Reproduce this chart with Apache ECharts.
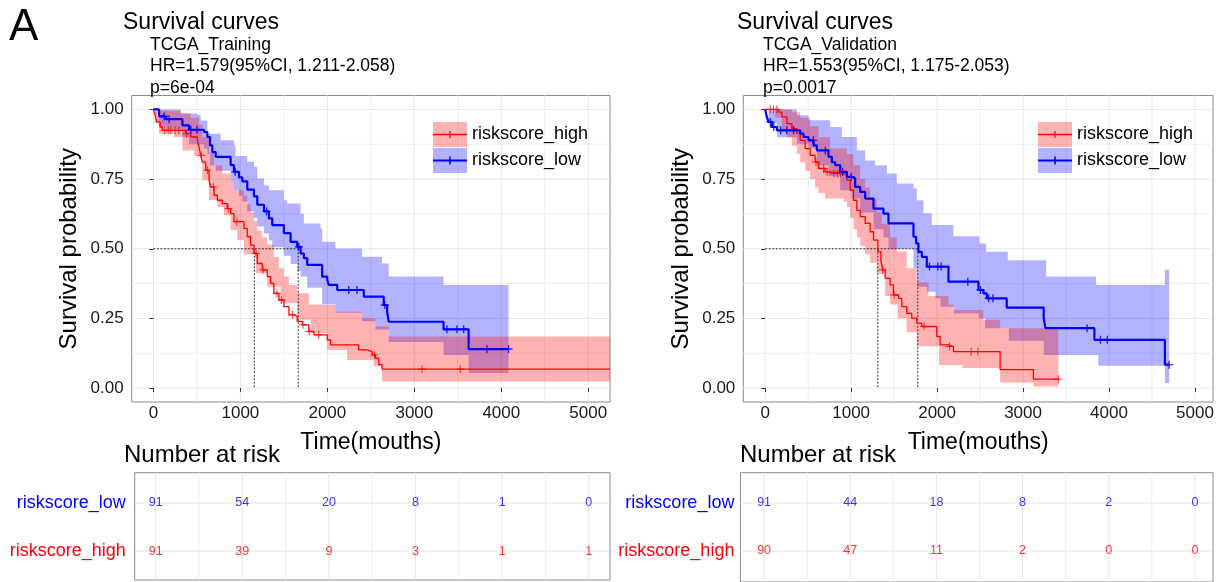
<!DOCTYPE html>
<html><head><meta charset="utf-8">
<script src="https://cdn.jsdelivr.net/npm/echarts@6/dist/echarts.min.js"></script>
<style>html,body{margin:0;padding:0;background:#fff}#c{width:1231px;height:582px}</style>
</head><body><div id="c"></div>
<script>
const FONT = "'Liberation Sans', Arial, Helvetica, sans-serif";
const RED = '#FF0000', BLUE = '#0000FF';
const RED_BAND = 'rgba(255,0,0,0.30)', BLUE_BAND = 'rgba(0,0,255,0.30)';

// ---------------- data ----------------
const groupNames = ['riskscore_high', 'riskscore_low'];
const xTicks = [0, 1000, 2000, 3000, 4000, 5000];
const yTicks = [0, 0.25, 0.5, 0.75, 1];
const xGridVals = [0, 500, 1000, 1500, 2000, 2500, 3000, 3500, 4000, 4500, 5000];
const yGridVals = [0, 0.125, 0.25, 0.375, 0.5, 0.625, 0.75, 0.875, 1];
const riskTimes = [0, 1000, 2000, 3000, 4000, 5000];
const trainRiskLow = [91, 54, 20, 8, 1, 0];
const trainRiskHigh = [91, 39, 9, 3, 1, 1];
const valRiskLow = [91, 44, 18, 8, 2, 0];
const valRiskHigh = [90, 47, 11, 2, 0, 0];

// TCGA_Training
const trainLowT = [0,65,142,333,410,582,620,651,677,716,888,926,984,1022,1079,1156,1194,1271,1328,1366,1500,1577,1653,1692,1730,1768,1940,1998,2017,2113,2419,2648,2687,2706,3336,3624,4083];
const trainLowS = [1,0.975,0.965,0.943,0.927,0.919,0.901,0.871,0.847,0.830,0.800,0.776,0.756,0.742,0.712,0.688,0.658,0.634,0.609,0.585,0.556,0.525,0.507,0.483,0.466,0.442,0.400,0.388,0.370,0.352,0.328,0.298,0.274,0.238,0.211,0.140,0.140];
const trainLowUpT = [0,314,505,543,620,773,926,945,1079,1156,1194,1271,1328,1500,1538,1692,1730,1921,1940,2093,2399,2629,2705,3336,4083];
const trainLowUp = [1,0.985,0.98,0.96,0.913,0.889,0.871,0.833,0.812,0.794,0.752,0.728,0.710,0.674,0.662,0.626,0.591,0.573,0.525,0.501,0.471,0.447,0.400,0.370,0.370];
const trainLowLoT = [0,65,142,333,410,582,620,651,716,888,926,984,1022,1079,1156,1194,1271,1328,1366,1500,1577,1653,1692,1768,1940,2093,2399,2552,2705,3336,3624,4083];
const trainLowLo = [1,0.94,0.93,0.90,0.875,0.86,0.84,0.80,0.78,0.74,0.71,0.69,0.67,0.635,0.61,0.58,0.555,0.53,0.505,0.475,0.445,0.42,0.40,0.36,0.30,0.27,0.24,0.21,0.165,0.119,0.054,0.054];
const trainLowCens = [122,180,430,500,940,1300,1672,2246,2340,2660,3375,3490,3567,3835,4083];

const trainHighT = [0,19,38,77,103,371,429,505,524,543,563,601,639,658,697,735,792,850,888,926,1041,1079,1117,1156,1194,1251,1309,1347,1385,1443,1500,1558,1615,1653,1711,1787,1845,1998,2036,2361,2457,2514,2553,2591,2629,5250];
const trainHighS = [1,0.979,0.955,0.937,0.925,0.913,0.901,0.889,0.865,0.835,0.811,0.782,0.746,0.722,0.692,0.674,0.662,0.644,0.626,0.597,0.573,0.543,0.513,0.483,0.447,0.424,0.400,0.376,0.340,0.316,0.292,0.263,0.257,0.239,0.227,0.203,0.191,0.173,0.155,0.137,0.131,0.119,0.107,0.084,0.068,0.068];
const trainHighUpT = [0,77,314,429,524,563,639,697,792,888,926,1041,1079,1117,1156,1194,1251,1309,1385,1443,1500,1558,1653,1787,1940,2093,2399,2552,2705,5250];
const trainHighUp = [1,0.995,0.985,0.97,0.945,0.90,0.845,0.80,0.77,0.74,0.71,0.69,0.66,0.63,0.60,0.565,0.54,0.515,0.47,0.43,0.40,0.37,0.34,0.30,0.298,0.274,0.251,0.221,0.185,0.185];
const trainHighLoT = [0,19,65,237,333,466,562,638,735,811,887,964,1040,1174,1308,1461,1653,1806,1998,2227,2533,2629,5250];
const trainHighLo = [1,0.95,0.913,0.901,0.853,0.835,0.746,0.674,0.650,0.620,0.567,0.531,0.48,0.412,0.364,0.304,0.245,0.197,0.137,0.101,0.078,0.024,0.024];
const trainHighCens = [130,170,200,250,290,380,550,620,690,860,960,1180,1260,1420,1470,1600,1720,1790,1900,2540,3088,3528];
const trainMedianHigh = 1160, trainMedianLow = 1665;

// TCGA_Validation
const valLowT = [0,19,39,78,136,407,446,504,562,601,736,775,814,872,950,1008,1047,1105,1163,1260,1376,1434,1725,1756,1783,1822,1880,2132,2481,2539,2578,2810,3240,3260,3830,4650,4700];
const valLowS = [1,0.973,0.955,0.937,0.925,0.913,0.901,0.889,0.871,0.853,0.830,0.811,0.800,0.776,0.758,0.752,0.722,0.704,0.680,0.644,0.626,0.591,0.543,0.519,0.489,0.471,0.436,0.382,0.352,0.340,0.322,0.289,0.251,0.215,0.173,0.084,0.084];
const valLowUpT = [0,368,504,756,891,1066,1163,1279,1415,1531,1725,1764,1841,1938,2190,2493,2570,2822,3269,3850,4650,4700];
const valLowUp = [1,0.979,0.961,0.937,0.901,0.853,0.817,0.800,0.770,0.734,0.716,0.674,0.627,0.585,0.545,0.519,0.489,0.459,0.400,0.370,0.424,0.424];
const valLowLoT = [0,39,136,368,504,601,736,872,1008,1105,1260,1376,1434,1725,1768,1884,1981,2039,2194,2485,2560,2834,3241,3876,4650,4700];
const valLowLo = [1,0.95,0.90,0.877,0.86,0.80,0.76,0.71,0.68,0.63,0.57,0.54,0.50,0.43,0.364,0.346,0.322,0.292,0.268,0.25,0.215,0.17,0.119,0.08,0.018,0.018];
const valLowCens = [60,100,180,250,330,560,700,900,1000,1911,2008,2047,2357,2504,2600,2650,3744,3900,3980,4700];

const valHighT = [0,155,194,252,310,368,407,465,523,581,620,698,756,911,950,988,1027,1066,1105,1163,1221,1260,1310,1345,1365,1395,1453,1492,1550,1589,1647,1705,1764,1822,1996,2035,2132,2190,2733,3120,3410];
const valHighS = [1,0.99,0.973,0.949,0.931,0.913,0.889,0.859,0.835,0.811,0.788,0.776,0.770,0.764,0.746,0.710,0.674,0.638,0.615,0.591,0.561,0.531,0.49,0.459,0.424,0.394,0.370,0.334,0.322,0.292,0.268,0.251,0.233,0.221,0.185,0.155,0.149,0.131,0.066,0.032,0.032];
const valHighUpT = [0,194,310,407,523,620,756,950,1027,1105,1163,1221,1298,1357,1453,1530,1647,1764,1900,2132,2190,2539,2733,3410];
const valHighUp = [1,1,0.99,0.97,0.94,0.90,0.86,0.84,0.80,0.75,0.72,0.68,0.63,0.59,0.54,0.49,0.43,0.38,0.33,0.30,0.28,0.245,0.215,0.215];
const valHighLoT = [0,116,194,252,310,368,407,465,523,581,620,698,911,950,988,1027,1066,1105,1163,1221,1298,1395,1453,1539,1647,1764,2024,2295,2733,3120,3410];
const valHighLo = [1,0.97,0.93,0.90,0.87,0.84,0.81,0.78,0.75,0.72,0.70,0.68,0.67,0.65,0.61,0.57,0.54,0.51,0.48,0.45,0.41,0.33,0.30,0.25,0.20,0.15,0.083,0.072,0.02,0.006,0.006];
const valHighCens = [58,97,136,590,680,720,800,840,875,1368,1500,1848,2144,2396,2474,3410];
const valMedianHigh = 1310, valMedianLow = 1775;

const trainTitle = ['TCGA_Training', 'HR=1.579(95%CI, 1.211-2.058)', 'p=6e-04'];
const valTitle = ['TCGA_Validation', 'HR=1.553(95%CI, 1.175-2.053)', 'p=0.0017'];

// ---------------- helpers ----------------
function survAt(T, S, t) { let v = S[0]; for (let i = 0; i < T.length; i++) { if (T[i] <= t) v = S[i]; else break; } return v; }
function stepPts(T, V) { const p = []; for (let i = 0; i < T.length; i++) { p.push([T[i], V[i]]); if (i + 1 < T.length) p.push([T[i + 1], V[i]]); } return p; }
function pair(T, V) { return T.map((t, i) => [t, V[i]]); }

const panels = [
  { grid: {left: 131.7, top: 95.5, width: 478.3, height: 306.5}, xr: [-250, 5250],
    table: {left: 134.7, top: 472.7, width: 475.3, height: 107.3}, txr: [-242, 5245], tyr: [-0.6, 1.63], rowMargin: 9,
    low: {T: trainLowT, S: trainLowS, upT: trainLowUpT, up: trainLowUp, loT: trainLowLoT, lo: trainLowLo, cens: trainLowCens, risk: trainRiskLow, med: trainMedianLow},
    high: {T: trainHighT, S: trainHighS, upT: trainHighUpT, up: trainHighUp, loT: trainHighLoT, lo: trainHighLo, cens: trainHighCens, risk: trainRiskHigh, med: trainMedianHigh},
    legendLeft: 428, titleLeft: 123, subLeft: 150, sub: trainTitle, nrLeft: 124 },
  { grid: {left: 743.3, top: 95.5, width: 469.7, height: 306.5}, xr: [-255, 5210],
    table: {left: 740.4, top: 472.7, width: 472.6, height: 109.3}, txr: [-275, 5210], tyr: [-0.646, 1.63], rowMargin: 6,
    low: {T: valLowT, S: valLowS, upT: valLowUpT, up: valLowUp, loT: valLowLoT, lo: valLowLo, cens: valLowCens, risk: valRiskLow, med: valMedianLow},
    high: {T: valHighT, S: valHighS, upT: valHighUpT, up: valHighUp, loT: valHighLoT, lo: valHighLo, cens: valHighCens, risk: valRiskHigh, med: valMedianHigh},
    legendLeft: 1033, titleLeft: 737, subLeft: 763, sub: valTitle, nrLeft: 740 }
];

const grids = [], xAxes = [], yAxes = [], series = [], legends = [], titles = [];

titles.push({text: 'A', left: 9, top: 6, padding: 0, textStyle: {fontSize: 44, fontWeight: 'normal', color: '#000', fontFamily: FONT}});

panels.forEach((p, i) => {
  const g = i, tg = i + 2;
  grids[g] = Object.assign({show: true, borderColor: '#8a8a8a', borderWidth: 1, backgroundColor: '#fff', containLabel: false}, p.grid);
  grids[tg] = Object.assign({show: true, borderColor: '#8a8a8a', borderWidth: 1, backgroundColor: '#fff', containLabel: false}, p.table);

  xAxes[g] = {type: 'value', gridIndex: g, min: p.xr[0], max: p.xr[1],
    axisLine: {show: false}, splitLine: {show: false},
    axisTick: {show: true, customValues: xTicks, length: 4, lineStyle: {color: '#333'}},
    axisLabel: {customValues: xTicks, margin: 3, fontSize: 17, color: '#1a1a1a', fontFamily: FONT, formatter: v => String(Math.round(v))},
    name: 'Time(mouths)', nameLocation: 'middle', nameGap: 29,
    nameTextStyle: {fontSize: 23, color: '#000', fontFamily: FONT}};
  yAxes[g] = {type: 'value', gridIndex: g, min: -0.05, max: 1.05,
    axisLine: {show: false}, splitLine: {show: false},
    axisTick: {show: true, customValues: yTicks, length: 4, lineStyle: {color: '#333'}},
    axisLabel: {customValues: yTicks, margin: 8, fontSize: 17, color: '#1a1a1a', fontFamily: FONT, formatter: v => Number(v).toFixed(2)},
    name: 'Survival probability', nameLocation: 'middle', nameGap: 50,
    nameTextStyle: {fontSize: 24, color: '#000', fontFamily: FONT}};
  xAxes[tg] = {type: 'value', gridIndex: tg, min: p.txr[0], max: p.txr[1], show: true,
    axisLine: {show: false}, axisTick: {show: false}, axisLabel: {show: false}, splitLine: {show: false}};
  yAxes[tg] = {type: 'value', gridIndex: tg, min: p.tyr[0], max: p.tyr[1],
    axisLine: {show: false}, axisTick: {show: false, customValues: [0, 1]}, splitLine: {show: false},
    axisLabel: {customValues: [0, 1], margin: p.rowMargin,
      formatter: v => (Math.round(v) === 1 ? '{low|' + groupNames[1] + '}' : '{high|' + groupNames[0] + '}'),
      rich: {low: {color: BLUE, fontSize: 18, fontFamily: FONT}, high: {color: RED, fontSize: 18, fontFamily: FONT}}}};

  // plot grid lines
  series.push({type: 'custom', xAxisIndex: g, yAxisIndex: g, silent: true, z: 0, data: [[0, 0]],
    renderItem: (params, api) => {
      const ch = [];
      xGridVals.forEach(x => { const a = api.coord([x, -0.05]), b = api.coord([x, 1.05]);
        ch.push({type: 'line', shape: {x1: a[0], y1: a[1], x2: b[0], y2: b[1]}, style: {stroke: (x % 1000 === 0) ? '#E6E6E6' : '#EEEEEE', lineWidth: 1}}); });
      yGridVals.forEach(y => { const a = api.coord([p.xr[0], y]), b = api.coord([p.xr[1], y]);
        ch.push({type: 'line', shape: {x1: a[0], y1: a[1], x2: b[0], y2: b[1]}, style: {stroke: (Math.round(y * 1000) % 250 === 0) ? '#E6E6E6' : '#EEEEEE', lineWidth: 1}}); });
      return {type: 'group', children: ch};
    }});

  // CI bands
  [['low', BLUE_BAND, 1], ['high', RED_BAND, 2]].forEach(([k, col, z]) => {
    const d = p[k];
    const poly = stepPts(d.upT, d.up).concat(stepPts(d.loT, d.lo).reverse());
    series.push({type: 'custom', name: k + '_ci', xAxisIndex: g, yAxisIndex: g, silent: true, z: z, data: [[0, 0]],
      renderItem: (params, api) => ({type: 'polygon', shape: {points: poly.map(pt => api.coord(pt))}, style: {fill: col}})});
  });

  // median reference lines
  const medLines = [[[0, 0.5], [p.low.med, 0.5]], [[p.high.med, 0.5], [p.high.med, 0]], [[p.low.med, 0.5], [p.low.med, 0]]];
  medLines.forEach(seg => series.push({type: 'line', xAxisIndex: g, yAxisIndex: g, data: seg, symbol: 'none', silent: true, z: 3,
    lineStyle: {color: '#333', width: 1, type: [2, 1.5]}}));

  // KM curves
  series.push({type: 'line', name: groupNames[0], xAxisIndex: g, yAxisIndex: g, data: pair(p.high.T, p.high.S), step: 'end',
    symbol: 'none', z: 5, lineStyle: {color: RED, width: 1.3}, itemStyle: {color: RED}});
  series.push({type: 'line', name: groupNames[1], xAxisIndex: g, yAxisIndex: g, data: pair(p.low.T, p.low.S), step: 'end',
    symbol: 'none', z: 6, lineStyle: {color: BLUE, width: 2.2}, itemStyle: {color: BLUE}});
  // censor marks
  [['high', RED, 1], ['low', BLUE, 1.4]].forEach(([k, col, w]) => {
    const d = p[k];
    series.push({type: 'scatter', xAxisIndex: g, yAxisIndex: g, silent: true, z: 7,
      data: d.cens.map(t => [t, survAt(d.T, d.S, t)]),
      symbol: 'path://M5,0L5,10M0,5L10,5', symbolSize: 8,
      itemStyle: {color: 'none', borderColor: col, borderWidth: w}});
  });

  // risk table grid lines
  series.push({type: 'custom', xAxisIndex: tg, yAxisIndex: tg, silent: true, z: 0, data: [[0, 0]],
    renderItem: (params, api) => {
      const ch = [];
      xGridVals.forEach(x => { const a = api.coord([x, p.tyr[0]]), b = api.coord([x, p.tyr[1]]);
        ch.push({type: 'line', shape: {x1: a[0], y1: a[1], x2: b[0], y2: b[1]}, style: {stroke: (x % 1000 === 0) ? '#E6E6E6' : '#EEEEEE', lineWidth: 1}}); });
      [0, 1].forEach(y => { const a = api.coord([p.txr[0], y]), b = api.coord([p.txr[1], y]);
        ch.push({type: 'line', shape: {x1: a[0], y1: a[1], x2: b[0], y2: b[1]}, style: {stroke: '#E6E6E6', lineWidth: 1}}); });
      return {type: 'group', children: ch};
    }});
  // risk numbers
  [['low', 1, BLUE], ['high', 0, RED]].forEach(([k, row, col]) => {
    series.push({type: 'scatter', xAxisIndex: tg, yAxisIndex: tg, silent: true, z: 3,
      data: riskTimes.map((t, j) => [t, row, p[k].risk[j]]),
      symbolSize: 1, itemStyle: {color: 'rgba(0,0,0,0)'},
      label: {show: true, position: 'inside', formatter: q => String(q.value[2]), color: col, fontSize: 12.5, fontFamily: FONT}});
  });

  // legends
  legends.push({left: p.legendLeft, top: 117, orient: 'vertical', itemWidth: 34, itemHeight: 25, itemGap: 1, selectedMode: false,
    data: [{name: groupNames[0], icon: 'rect', itemStyle: {color: RED_BAND}}, {name: groupNames[1], icon: 'rect', itemStyle: {color: BLUE_BAND}}],
    textStyle: {fontSize: 18, color: '#000', fontFamily: FONT}});
  legends.push({left: p.legendLeft, top: 128.8, itemWidth: 34, itemHeight: 1.4, selectedMode: false, formatter: () => '',
    data: [{name: groupNames[0], icon: 'rect', itemStyle: {color: RED}}]});
  legends.push({left: p.legendLeft, top: 154.4, itemWidth: 34, itemHeight: 2.2, selectedMode: false, formatter: () => '',
    data: [{name: groupNames[1], icon: 'rect', itemStyle: {color: BLUE}}]});
  legends.push({left: p.legendLeft + 16.4, top: 126, itemWidth: 1.2, itemHeight: 7, selectedMode: false, formatter: () => '',
    data: [{name: groupNames[0], icon: 'rect', itemStyle: {color: RED}}]});
  legends.push({left: p.legendLeft + 16.2, top: 151.5, itemWidth: 1.6, itemHeight: 8, selectedMode: false, formatter: () => '',
    data: [{name: groupNames[1], icon: 'rect', itemStyle: {color: BLUE}}]});

  // titles
  titles.push({text: 'Survival curves', left: p.titleLeft, top: 11, padding: 0, textStyle: {fontSize: 23, fontWeight: 'normal', color: '#000', fontFamily: FONT}});
  p.sub.forEach((s, j) => titles.push({text: s, left: p.subLeft, top: 36 + j * 21.5, padding: 0, textStyle: {fontSize: 17.5, fontWeight: 'normal', color: '#000', fontFamily: FONT}}));
  titles.push({text: 'Number at risk', left: p.nrLeft, top: 443, padding: 0, textStyle: {fontSize: 24, fontWeight: 'normal', color: '#000', fontFamily: FONT}});
});

const chart = echarts.init(document.getElementById('c'), null, {renderer: 'canvas'});
chart.setOption({
  animation: false,
  backgroundColor: '#fff',
  textStyle: {fontFamily: FONT},
  title: titles,
  legend: legends,
  grid: grids,
  xAxis: xAxes,
  yAxis: yAxes,
  series: series
});
</script></body></html>
